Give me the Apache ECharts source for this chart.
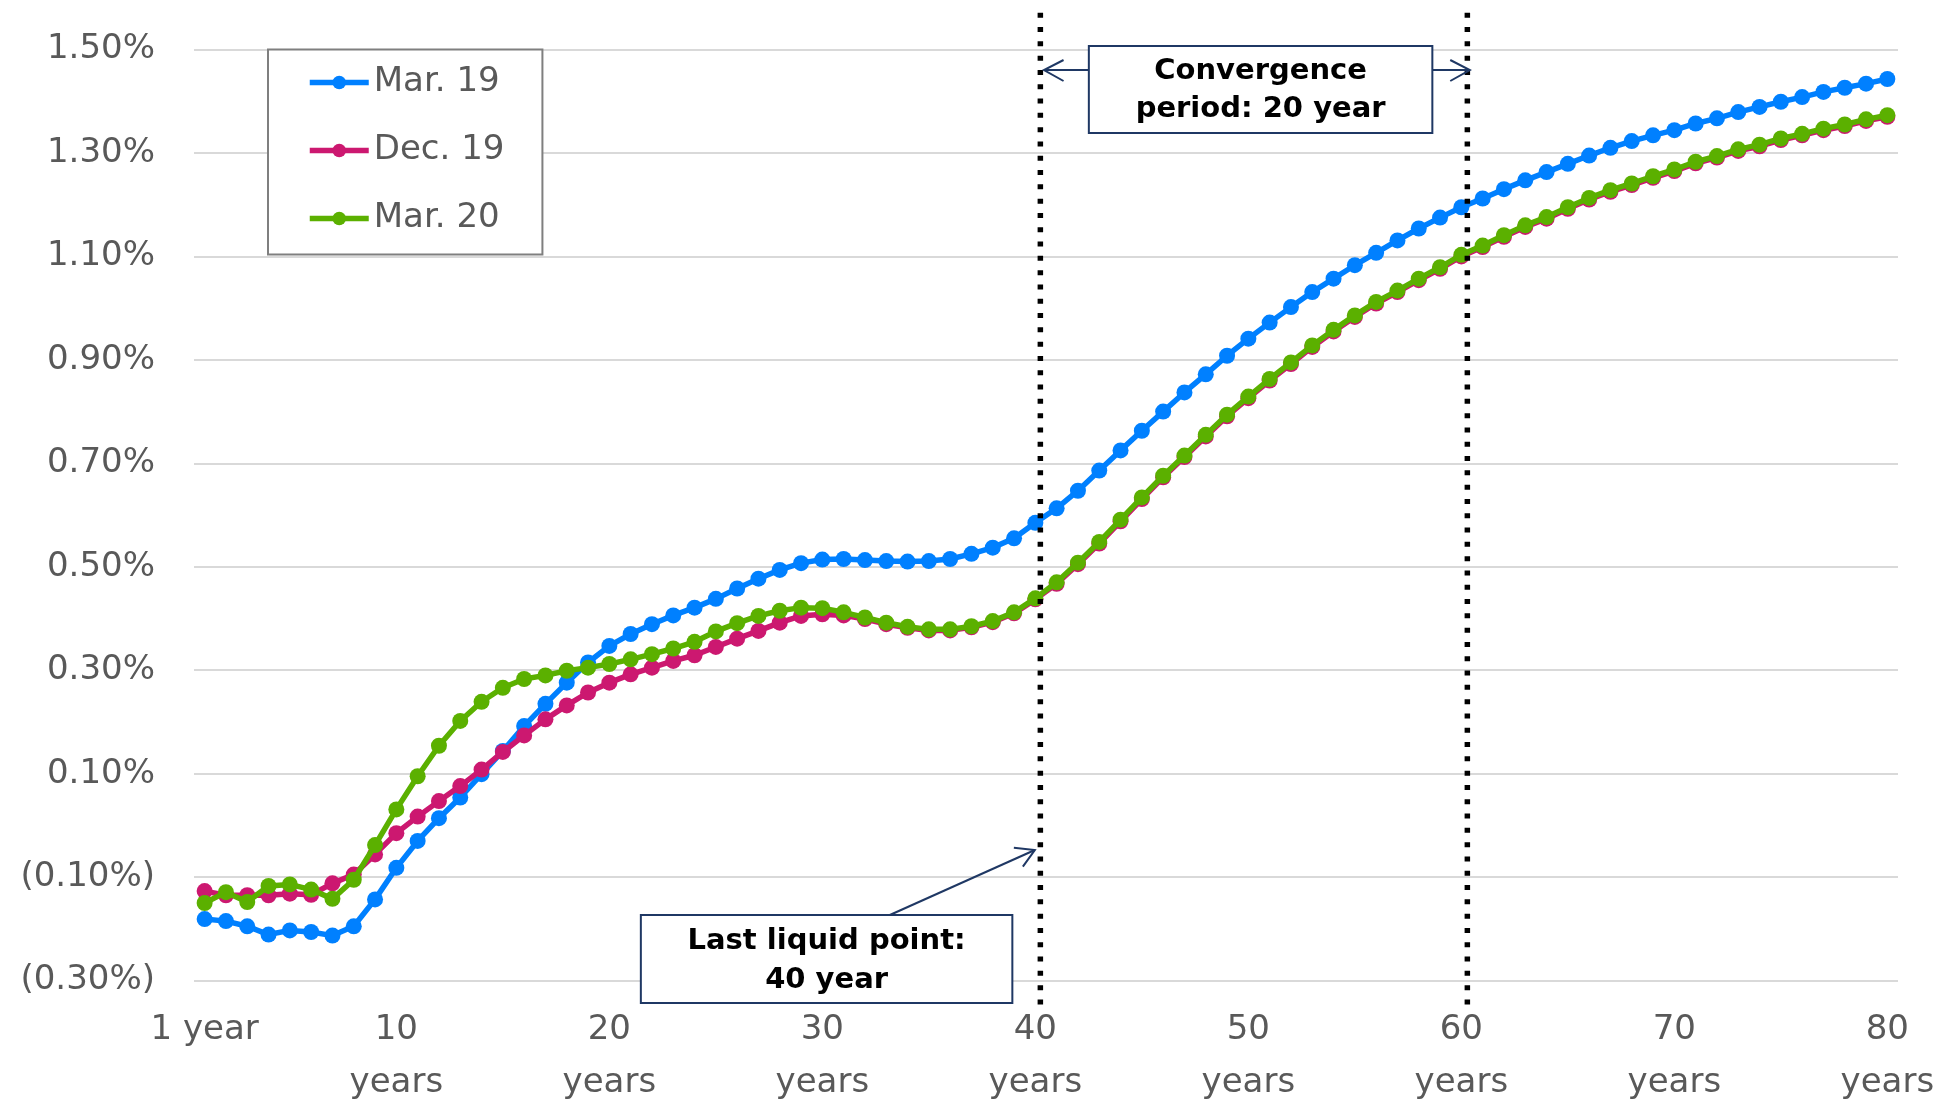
<!DOCTYPE html>
<html>
<head>
<meta charset="utf-8">
<script src="https://cdn.jsdelivr.net/npm/echarts@6/dist/echarts.min.js"></script>
<style>
  html, body { margin: 0; padding: 0; background: #ffffff; }
  #chart { width: 1939px; height: 1101px; }
</style>
</head>
<body>
<div id="chart"></div>
<script>
// ---------- data (percent) ----------
const maturities = [
  1, 2, 3, 4, 5, 6, 7, 8, 9, 10,
  11, 12, 13, 14, 15, 16, 17, 18, 19, 20,
  21, 22, 23, 24, 25, 26, 27, 28, 29, 30,
  31, 32, 33, 34, 35, 36, 37, 38, 39, 40,
  41, 42, 43, 44, 45, 46, 47, 48, 49, 50,
  51, 52, 53, 54, 55, 56, 57, 58, 59, 60,
  61, 62, 63, 64, 65, 66, 67, 68, 69, 70,
  71, 72, 73, 74, 75, 76, 77, 78, 79, 80
];
const labelledYears = [1, 10, 20, 30, 40, 50, 60, 70, 80];

const seriesNames = ['Mar. 19', 'Dec. 19', 'Mar. 20'];

const mar19 = [
  -0.181, -0.185, -0.195, -0.211, -0.203, -0.206, -0.213, -0.195, -0.143, -0.082,
  -0.030, 0.014, 0.054, 0.099, 0.144, 0.192, 0.235, 0.276, 0.315, 0.347,
  0.370, 0.389, 0.406, 0.421, 0.438, 0.458, 0.477, 0.494, 0.507, 0.514,
  0.515, 0.513, 0.511, 0.510, 0.511, 0.515, 0.525, 0.537, 0.555, 0.585,
  0.613, 0.647, 0.686, 0.725, 0.763, 0.800, 0.837, 0.872, 0.908, 0.941,
  0.972, 1.002, 1.031, 1.057, 1.083, 1.107, 1.131, 1.154, 1.175, 1.195,
  1.212, 1.230, 1.247, 1.263, 1.279, 1.295, 1.310, 1.323, 1.334, 1.344,
  1.357, 1.367, 1.379, 1.389, 1.399, 1.408, 1.418, 1.426, 1.434, 1.443
];

const dec19 = [
  -0.127, -0.135, -0.135, -0.135, -0.132, -0.134, -0.112, -0.095, -0.056, -0.015,
  0.017, 0.047, 0.076, 0.108, 0.142, 0.174, 0.205, 0.232, 0.257, 0.276,
  0.292, 0.305, 0.318, 0.329, 0.345, 0.361, 0.376, 0.392, 0.405, 0.408,
  0.406, 0.399, 0.389, 0.382, 0.377, 0.377, 0.383, 0.393, 0.410, 0.437,
  0.467, 0.505, 0.545, 0.588, 0.631, 0.673, 0.712, 0.752, 0.791, 0.826,
  0.860, 0.892, 0.925, 0.955, 0.983, 1.009, 1.031, 1.054, 1.076, 1.100,
  1.118, 1.138, 1.157, 1.173, 1.192, 1.210, 1.225, 1.238, 1.252, 1.265,
  1.280, 1.291, 1.304, 1.313, 1.325, 1.334, 1.344, 1.352, 1.362, 1.370
];

const mar20 = [
  -0.150, -0.129, -0.148, -0.117, -0.114, -0.124, -0.142, -0.105, -0.038, 0.031,
  0.095, 0.154, 0.202, 0.239, 0.266, 0.283, 0.290, 0.299, 0.305, 0.312,
  0.321, 0.331, 0.342, 0.355, 0.375, 0.391, 0.405, 0.415, 0.421, 0.420,
  0.412, 0.402, 0.392, 0.384, 0.379, 0.379, 0.385, 0.395, 0.412, 0.439,
  0.470, 0.508, 0.548, 0.591, 0.634, 0.676, 0.715, 0.755, 0.794, 0.829,
  0.863, 0.895, 0.928, 0.958, 0.986, 1.012, 1.034, 1.057, 1.079, 1.103,
  1.121, 1.141, 1.160, 1.176, 1.195, 1.213, 1.228, 1.241, 1.255, 1.268,
  1.283, 1.294, 1.307, 1.316, 1.328, 1.337, 1.347, 1.355, 1.365, 1.373
];

const yMin = -0.3, yMax = 1.5, yStep = 0.2;
const lastLiquidYear = 40;
const convergenceEndYear = 60;

// ---------- chart ----------
const FONT = '"DejaVu Sans", Verdana, sans-serif';
const GREY = '#595959';
const NAVY = '#1f3864';
const colors = ['#0080ff', '#cc1870', '#5bb000'];

const chart = echarts.init(document.getElementById('chart'), null, { renderer: 'canvas' });

function yFmt(v) {
  const r = Math.round(v * 100) / 100;
  return r < 0 ? '(' + Math.abs(r).toFixed(2) + '%)' : r.toFixed(2) + '%';
}

const option = {
  backgroundColor: '#ffffff',
  animation: false,
  color: colors,
  grid: {
    left: 194, right: 41, top: 49.5, bottom: 120.4,
    containLabel: false,
    outerBoundsMode: 'none'
  },
  legend: {
    orient: 'vertical',
    left: 268, top: 49.5,
    padding: [13, 38, 16, 39],
    itemGap: 28,
    itemWidth: 59,
    itemHeight: 17,
    backgroundColor: '#ffffff',
    borderColor: '#7f7f7f',
    borderWidth: 2,
    borderRadius: 0,
    data: seriesNames,
    lineStyle: { width: 5.5 },
    textStyle: { fontSize: 34, color: GREY, fontFamily: FONT, lineHeight: 40 }
  },
  xAxis: {
    type: 'category',
    data: maturities,
    boundaryGap: true,
    axisLine: { show: false },
    axisTick: { show: false },
    splitLine: { show: false },
    axisLabel: {
      interval: function (idx, value) { return labelledYears.indexOf(Number(value)) >= 0; },
      formatter: function (value) {
        const n = Number(value);
        return n === 1 ? '1 year' : n + '\nyears';
      },
      fontSize: 34,
      lineHeight: 53,
      color: GREY,
      fontFamily: FONT,
      margin: 23,
      hideOverlap: false
    }
  },
  yAxis: {
    type: 'value',
    min: yMin, max: yMax, interval: yStep,
    axisLine: { show: false },
    axisTick: { show: false },
    splitLine: { show: true, lineStyle: { color: '#d9d9d9', width: 2 } },
    axisLabel: {
      formatter: yFmt,
      fontSize: 34,
      color: GREY,
      fontFamily: FONT,
      margin: 39
    }
  },
  series: [mar19, dec19, mar20].map(function (vals, i) {
    return {
      name: seriesNames[i],
      type: 'line',
      data: vals,
      symbol: 'circle',
      symbolSize: 16,
      showSymbol: true,
      showAllSymbol: true,
      lineStyle: { width: 5.5, color: colors[i] },
      itemStyle: { color: colors[i] },
      emphasis: { disabled: true },
      z: 2 + i
    };
  })
};

chart.setOption(option);

// ---------- annotations anchored to the axes ----------
function px(xIdx, yVal) { return chart.convertToPixel({ gridIndex: 0 }, [xIdx, yVal]); }
const i40 = maturities.indexOf(lastLiquidYear);
const i60 = maturities.indexOf(convergenceEndYear);
const x40 = px(i40, 0)[0] + 5;
const x60 = px(i60, 0)[0] + 6;
const yTop = px(0, 1.571)[1];
const yBot = px(0, -0.351)[1];

const dotStyle = { stroke: '#000000', lineWidth: 5.5, lineDash: [5, 9.3], lineCap: 'butt' };
const arrowStyle = { stroke: NAVY, lineWidth: 2, fill: null };
const boxStyle = { fill: '#ffffff', stroke: NAVY, lineWidth: 2 };
const boxText = { fontSize: 29, fontWeight: 'bold', fontFamily: FONT, fill: '#000000', align: 'center', verticalAlign: 'middle', lineHeight: 38 };

// convergence box
const cL = x40 + 48.5, cR = x60 - 35, cT = 46, cB = 133, arrowY = 70;
const leftTip = x40 + 3.6, rightTip = x60 + 2.5;
// last liquid box
const lL = x40 - 399.5, lR = x40 - 28, lT = 915, lB = 1003;
const llStart = [x40 - 150.5, lT], llTip = [x40 - 5.5, 850];

chart.setOption({
  graphic: [
    { type: 'line', z: 100, silent: true, shape: { x1: x40, y1: yTop, x2: x40, y2: yBot }, style: dotStyle },
    { type: 'line', z: 100, silent: true, shape: { x1: x60, y1: yTop, x2: x60, y2: yBot }, style: dotStyle },

    { type: 'line', z: 101, silent: true, shape: { x1: cL, y1: arrowY, x2: leftTip, y2: arrowY }, style: arrowStyle },
    { type: 'polyline', z: 101, silent: true, shape: { points: [[leftTip + 19.6, arrowY - 10], [leftTip, arrowY], [leftTip + 19.6, arrowY + 11]] }, style: arrowStyle },
    { type: 'line', z: 101, silent: true, shape: { x1: cR, y1: arrowY, x2: rightTip, y2: arrowY }, style: arrowStyle },
    { type: 'polyline', z: 101, silent: true, shape: { points: [[rightTip - 19.6, arrowY - 10], [rightTip, arrowY], [rightTip - 19.6, arrowY + 11]] }, style: arrowStyle },
    { type: 'rect', z: 102, silent: true, shape: { x: cL, y: cT, width: cR - cL, height: cB - cT }, style: boxStyle },
    { type: 'text', z: 103, silent: true, x: (cL + cR) / 2, y: (cT + cB) / 2 + 1,
      style: Object.assign({ text: 'Convergence\nperiod: 20 year' }, boxText) },

    { type: 'line', z: 101, silent: true, shape: { x1: llStart[0], y1: llStart[1], x2: llTip[0], y2: llTip[1] }, style: arrowStyle },
    { type: 'polyline', z: 101, silent: true, shape: { points: [[llTip[0] - 21, llTip[1] - 2.3], llTip, [llTip[0] - 12, llTip[1] + 16.7]] }, style: arrowStyle },
    { type: 'rect', z: 102, silent: true, shape: { x: lL, y: lT, width: lR - lL, height: lB - lT }, style: boxStyle },
    { type: 'text', z: 103, silent: true, x: (lL + lR) / 2, y: (lT + lB) / 2 + 2,
      style: Object.assign({ text: 'Last liquid point:\n40 year' }, boxText, { lineHeight: 39 }) }
  ]
});
</script>
</body>
</html>
